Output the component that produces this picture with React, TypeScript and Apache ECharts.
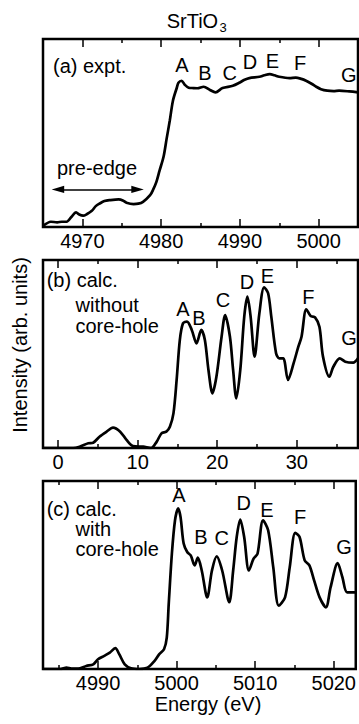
import React, { useEffect, useRef } from "react";
import * as echarts from "echarts";

// (a) experiment
const expEnergy = [4965.0, 4966.0, 4966.8, 4967.4, 4968.0, 4968.6, 4969.2, 4969.6, 4970.1, 4970.6, 4971.2, 4971.7, 4972.2, 4972.8, 4973.5, 4974.6, 4975.2, 4975.6, 4976.5, 4977.1, 4977.7, 4978.6, 4979.0, 4979.4, 4979.8, 4980.3, 4980.7, 4981.1, 4981.5, 4982.0, 4982.2, 4982.6, 4983.0, 4983.5, 4984.1, 4984.6, 4985.4, 4986.2, 4986.9, 4987.8, 4989.1, 4990.0, 4990.6, 4991.2, 4992.5, 4993.1, 4993.8, 4994.4, 4995.0, 4996.3, 4997.1, 4997.8, 4998.4, 4999.1, 4999.7, 5000.3, 5001.1, 5001.9, 5002.6, 5003.9, 5005.0];
const expIntensity = [0.005, 0.028, 0.025, 0.028, 0.028, 0.053, 0.078, 0.066, 0.06, 0.069, 0.086, 0.111, 0.125, 0.138, 0.143, 0.147, 0.14, 0.129, 0.122, 0.124, 0.134, 0.169, 0.2, 0.24, 0.3, 0.372, 0.47, 0.566, 0.672, 0.742, 0.767, 0.778, 0.757, 0.741, 0.739, 0.738, 0.746, 0.729, 0.716, 0.739, 0.751, 0.769, 0.783, 0.792, 0.799, 0.807, 0.813, 0.807, 0.799, 0.792, 0.795, 0.788, 0.778, 0.762, 0.746, 0.733, 0.725, 0.723, 0.725, 0.721, 0.716];

// (b) calculation without core-hole (relative energy)
const noHoleEnergy = [-1.9, 1.9, 2.7, 3.8, 4.4, 5.2, 6.1, 6.9, 7.8, 8.6, 9.4, 10.7, 11.7, 12.4, 13.0, 13.6, 14.05, 14.5, 14.9, 15.3, 15.7, 16.2, 16.8, 17.4, 18.0, 18.45, 18.9, 19.4, 19.9, 20.55, 21.0, 21.6, 22.0, 22.4, 22.9, 23.4, 23.8, 24.2, 24.7, 25.3, 25.9, 26.4, 26.8, 27.4, 27.8, 28.3, 28.9, 29.6, 30.2, 30.6, 31.2, 31.75, 32.3, 32.85, 33.3, 34.1, 34.6, 35.4, 36.1, 37.1, 37.7];
const noHoleIntensity = [0, 0, 0.007, 0.025, 0.028, 0.06, 0.087, 0.108, 0.087, 0.043, 0.011, 0.007, 0, 0.034, 0.078, 0.087, 0.113, 0.184, 0.362, 0.574, 0.663, 0.672, 0.628, 0.557, 0.628, 0.574, 0.415, 0.291, 0.379, 0.592, 0.707, 0.592, 0.415, 0.264, 0.415, 0.699, 0.805, 0.699, 0.486, 0.716, 0.855, 0.823, 0.699, 0.504, 0.477, 0.477, 0.362, 0.45, 0.539, 0.592, 0.738, 0.702, 0.695, 0.645, 0.486, 0.379, 0.432, 0.477, 0.459, 0.454, 0.477];

// (c) calculation with core-hole
const holeEnergy = [4983.0, 4985.2, 4986.0, 4986.6, 4987.7, 4988.5, 4989.4, 4990.0, 4990.8, 4991.5, 4992.2, 4992.7, 4993.4, 4994.2, 4995.3, 4996.3, 4997.2, 4997.8, 4998.4, 4998.75, 4999.0, 4999.4, 4999.8, 5000.2, 5000.5, 5000.9, 5001.35, 5001.8, 5002.3, 5002.7, 5003.2, 5003.9, 5004.5, 5005.1, 5005.8, 5006.7, 5007.2, 5007.65, 5008.1, 5008.6, 5009.2, 5009.8, 5010.3, 5011.0, 5011.65, 5012.3, 5013.0, 5013.8, 5014.4, 5015.1, 5015.65, 5016.3, 5016.9, 5017.5, 5018.2, 5019.0, 5019.6, 5020.5, 5021.1, 5021.7, 5022.8];
const holeIntensity = [0, 0, 0.007, 0.002, 0.004, 0.016, 0.025, 0.052, 0.07, 0.087, 0.111, 0.079, 0.025, 0.004, 0, 0.007, 0.043, 0.079, 0.105, 0.167, 0.346, 0.613, 0.791, 0.854, 0.809, 0.667, 0.622, 0.604, 0.551, 0.592, 0.524, 0.381, 0.524, 0.599, 0.524, 0.355, 0.524, 0.702, 0.795, 0.702, 0.524, 0.587, 0.613, 0.791, 0.738, 0.542, 0.337, 0.381, 0.542, 0.724, 0.702, 0.578, 0.551, 0.471, 0.381, 0.328, 0.435, 0.563, 0.488, 0.408, 0.408];

// ticks
const aMajor = [4970, 4980, 4990, 5000];
const aMinor = [4975, 4985, 4995];
const bMajor = [0, 10, 20, 30];
const bMinor = [5, 15, 25, 35];
const cMajor = [4990, 5000, 5010, 5020];
const cMinor = [4985, 4995, 5005, 5015];

// pre-edge arrow (energy range, intensity level)
const preEdgeRange = [4966.1, 4977.8];
const preEdgeLevel = 0.2;

const peakLetters = ["A", "B", "C", "D", "E", "F", "G"];

const FONT = "'Liberation Sans', Arial, Helvetica, sans-serif";

const zip = (xs: number[], ys: number[]) => xs.map((x, i) => [x, ys[i]]);

export default function App() {
  const ref = useRef<HTMLDivElement>(null);
  useEffect(() => {
    if (!ref.current) return;
    const chart = echarts.init(ref.current, null, { renderer: "svg" });

    const grids = [
      { left: 43, top: 39, width: 315, height: 188 },
      { left: 43, top: 260, width: 315, height: 188 },
      { left: 43, top: 481, width: 315, height: 188 },
    ].map((g) => ({ ...g, show: true, borderColor: "#000", borderWidth: 2.5, backgroundColor: "transparent" }));

    const ranges = [
      [4965, 5005],
      [-1.9, 37.7],
      [4983.0, 5022.8],
    ];
    const majors = [aMajor, bMajor, cMajor];
    const minors = [aMinor, bMinor, cMinor];

    const xAxes: any[] = [];
    const mkAxis = (gi: number, pos: string, values: number[], len: number, labels: boolean) => ({
      type: "value",
      gridIndex: gi,
      position: pos,
      min: ranges[gi][0],
      max: ranges[gi][1],
      axisLine: { show: false },
      splitLine: { show: false },
      axisTick: { show: true, inside: true, length: len, customValues: values, lineStyle: { color: "#000", width: 1.5 } },
      axisLabel: {
        show: labels,
        customValues: values,
        margin: 4,
        fontSize: 20,
        color: "#000",
        fontFamily: FONT,
        formatter: (v: number) => String(v),
      },
    });
    const mainAxisIndex: number[] = [];
    for (let g = 0; g < 3; g++) {
      mainAxisIndex.push(xAxes.length);
      xAxes.push(mkAxis(g, "bottom", majors[g], 8, true));
      xAxes.push(mkAxis(g, "bottom", minors[g], 4, false));
      xAxes.push(mkAxis(g, "top", majors[g], 8, false));
      xAxes.push(mkAxis(g, "top", minors[g], 4, false));
    }
    const yAxes = [0, 1, 2].map((g) => ({ type: "value", gridIndex: g, min: 0, max: 1, show: false }));

    const lineBase = {
      type: "line",
      showSymbol: false,
      smooth: 0.3,
      lineStyle: { color: "#000", width: 2.7 },
      itemStyle: { color: "#000" },
      silent: true,
    };

    const series: any[] = [
      {
        ...lineBase,
        xAxisIndex: mainAxisIndex[0],
        yAxisIndex: 0,
        data: zip(expEnergy, expIntensity),
        markLine: {
          silent: true,
          symbol: ["none", "none"],
          label: { show: false },
          lineStyle: { color: "#000", width: 1.5, type: "solid" },
          data: [[{ coord: [preEdgeRange[0] + 1, preEdgeLevel] }, { coord: [preEdgeRange[1] - 1, preEdgeLevel] }]],
        },
      },
      { ...lineBase, xAxisIndex: mainAxisIndex[1], yAxisIndex: 1, data: zip(noHoleEnergy, noHoleIntensity) },
      { ...lineBase, xAxisIndex: mainAxisIndex[2], yAxisIndex: 2, data: zip(holeEnergy, holeIntensity) },
    ];

    const txt = (x: number, y: number, text: string, opts: any = {}) => ({
      type: "text",
      x,
      y,
      style: {
        text,
        fill: "#000",
        font: `${opts.size || 20}px ${FONT}`,
        align: opts.align || "center",
        verticalAlign: "middle",
      },
      rotation: opts.rotation || 0,
    });

    const aPos = [[182, 65], [205, 73], [229.7, 73], [250, 61.7], [272.5, 60.5], [300, 63.3], [348.7, 75]];
    const bPos = [[183, 309.3], [199, 318.3], [223, 300], [247, 282], [267.5, 275.5], [308.3, 297], [349, 337.5]];
    const cPos = [[179, 495], [201, 536.7], [221.7, 538], [243.7, 503.3], [267, 510], [300, 516.7], [344, 546.7]];

    const graphics: any[] = [
      txt(166.7, 21, "SrTiO", { align: "left" }),
      txt(219.5, 27.5, "3", { align: "left", size: 13 }),
      txt(20, 345, "Intensity (arb. units)", { rotation: Math.PI / 2 }),
      txt(208, 704, "Energy (eV)"),
      txt(53, 66, "(a) expt.", { align: "left" }),
      txt(97, 168, "pre-edge"),
      txt(46.7, 280, "(b) calc.", { align: "left" }),
      txt(75.5, 305, "without", { align: "left" }),
      txt(75.5, 326, "core-hole", { align: "left" }),
      txt(46.7, 509, "(c) calc.", { align: "left" }),
      txt(75.5, 529, "with", { align: "left" }),
      txt(75.5, 549, "core-hole", { align: "left" }),
    ];
    [aPos, bPos, cPos].forEach((pos) => {
      peakLetters.forEach((l, i) => graphics.push(txt(pos[i][0], pos[i][1], l)));
    });

    chart.setOption({
      animation: false,
      backgroundColor: "#fff",
      grid: grids,
      xAxis: xAxes,
      yAxis: yAxes,
      series,
      graphic: graphics,
    });

    // arrow heads for the pre-edge arrow, placed through the axis scales
    const finder = { xAxisIndex: mainAxisIndex[0], yAxisIndex: 0 };
    const p0 = chart.convertToPixel(finder as any, [preEdgeRange[0], preEdgeLevel]) as number[];
    const p1 = chart.convertToPixel(finder as any, [preEdgeRange[1], preEdgeLevel]) as number[];
    if (p0 && p1) {
      const hl = 12.5;
      const hw = 3.6;
      graphics.push({
        type: "polygon",
        shape: { points: [[p0[0], p0[1]], [p0[0] + hl, p0[1] - hw], [p0[0] + hl, p0[1] + hw]] },
        style: { fill: "#000" },
      });
      graphics.push({
        type: "polygon",
        shape: { points: [[p1[0], p1[1]], [p1[0] - hl, p1[1] - hw], [p1[0] - hl, p1[1] + hw]] },
        style: { fill: "#000" },
      });
      chart.setOption({ graphic: graphics });
    }
    return () => chart.dispose();
  }, []);
  return <div ref={ref} style={{ position: "fixed", left: 0, top: 0, width: 359, height: 724 }} />;
}
